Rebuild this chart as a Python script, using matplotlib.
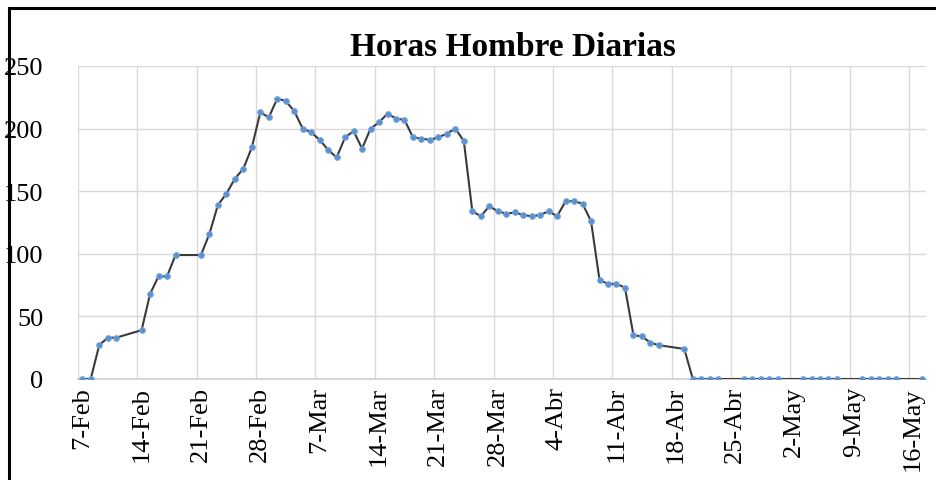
import numpy as np
import pandas as pd
import matplotlib
matplotlib.use("Agg")
import matplotlib.pyplot as plt
import matplotlib.transforms as mtransforms
from matplotlib.lines import Line2D

# daily man-hours, year 2022 (weekends/holidays missing)
fechas = [
    "2022-02-07", "2022-02-08", "2022-02-09", "2022-02-10", "2022-02-11",
    "2022-02-14", "2022-02-15", "2022-02-16", "2022-02-17", "2022-02-18",
    "2022-02-21", "2022-02-22", "2022-02-23", "2022-02-24", "2022-02-25",
    "2022-02-26", "2022-02-27", "2022-02-28",
    "2022-03-01", "2022-03-02", "2022-03-03", "2022-03-04", "2022-03-05",
    "2022-03-06", "2022-03-07", "2022-03-08", "2022-03-09", "2022-03-10",
    "2022-03-11", "2022-03-12", "2022-03-13", "2022-03-14", "2022-03-15",
    "2022-03-16", "2022-03-17", "2022-03-18", "2022-03-19", "2022-03-20",
    "2022-03-21", "2022-03-22", "2022-03-23", "2022-03-24", "2022-03-25",
    "2022-03-26", "2022-03-27", "2022-03-28", "2022-03-29", "2022-03-30",
    "2022-03-31",
    "2022-04-01", "2022-04-02", "2022-04-03", "2022-04-04", "2022-04-05",
    "2022-04-06", "2022-04-07", "2022-04-08", "2022-04-09", "2022-04-10",
    "2022-04-11", "2022-04-12", "2022-04-13", "2022-04-14", "2022-04-15",
    "2022-04-16", "2022-04-19", "2022-04-20", "2022-04-21", "2022-04-22",
    "2022-04-23", "2022-04-26", "2022-04-27", "2022-04-28", "2022-04-29",
    "2022-04-30",
    "2022-05-03", "2022-05-04", "2022-05-05", "2022-05-06", "2022-05-07",
    "2022-05-10", "2022-05-11", "2022-05-12", "2022-05-13", "2022-05-14",
    "2022-05-17",
]
horas = [
    0, 0, 27, 33, 33,
    39, 68, 82, 82, 99,
    99, 116, 139, 148, 160,
    168, 185, 213,
    209, 224, 222, 214, 200,
    197, 191, 183, 177, 193,
    198, 184, 200, 205, 212,
    208, 207, 193, 192, 191,
    193, 196, 200, 190, 134,
    130, 138, 134, 132, 133,
    131,
    130, 131, 134, 130, 142,
    142, 140, 126, 79, 76,
    76, 73, 35, 34, 29,
    27, 24, 0, 0, 0,
    0, 0, 0, 0, 0,
    0,
    0, 0, 0, 0, 0,
    0, 0, 0, 0, 0,
    0,
]
tick_fechas = ["2022-02-07", "2022-02-14", "2022-02-21", "2022-02-28",
               "2022-03-07", "2022-03-14", "2022-03-21", "2022-03-28",
               "2022-04-04", "2022-04-11", "2022-04-18", "2022-04-25",
               "2022-05-02", "2022-05-09", "2022-05-16"]
tick_labels = ["7-Feb", "14-Feb", "21-Feb", "28-Feb", "7-Mar", "14-Mar",
               "21-Mar", "28-Mar", "4-Abr", "11-Abr", "18-Abr", "25-Abr",
               "2-May", "9-May", "16-May"]

plt.rcParams['font.family'] = ['Liberation Serif', 'DejaVu Serif']

fig = plt.figure(figsize=(9.36, 4.81), dpi=100)
ax = fig.add_axes([78/936, 1-380/481, (926-78)/936, (380-67)/481])

# Excel places each day's point in the middle of the day
x = pd.to_datetime(fechas) + pd.Timedelta(hours=12)
ax.plot(x, horas, color='#3a3a3a', linewidth=1.5, marker='o', markersize=4,
        markerfacecolor='#5b8fd0', markeredgecolor='#6fa3dc', markeredgewidth=0.8,
        zorder=3)

ax.set_xlim(pd.Timestamp("2022-02-07"), pd.Timestamp("2022-05-18"))
ax.set_ylim(0, 250)
ax.set_yticks([0, 50, 100, 150, 200, 250])
ax.set_xticks(pd.to_datetime(tick_fechas))
ax.set_xticklabels(tick_labels, rotation=90)
ax.tick_params(axis='both', length=0, labelsize=19, colors='black')
ax.tick_params(axis='y', pad=25)
ax.tick_params(axis='x', pad=5)

# date labels sit slightly right of the gridline
shift = mtransforms.ScaledTranslation(4/100, 0, fig.dpi_scale_trans)
for lab in ax.get_xticklabels():
    lab.set_transform(lab.get_transform() + shift)

ax.grid(True, color='#d9d9d9', linewidth=1.0)
ax.set_axisbelow(True)
for s in ['top', 'right', 'left']:
    ax.spines[s].set_visible(False)
ax.spines['bottom'].set_color('#d0d0d0')
ax.spines['bottom'].set_linewidth(1.2)

fig.text(513/936, 1-48/481, "Horas Hombre Diarias", ha='center', va='center',
         fontsize=24, fontweight='bold')

# outer border of the pasted chart (left and top visible)
fig.add_artist(Line2D([9/936, 9/936], [0, 1-9/481], color='black', linewidth=2.2,
                      transform=fig.transFigure))
fig.add_artist(Line2D([9/936, 1], [1-9/481, 1-9/481], color='black', linewidth=2.2,
                      transform=fig.transFigure))

fig.savefig("out.png", dpi=100)
